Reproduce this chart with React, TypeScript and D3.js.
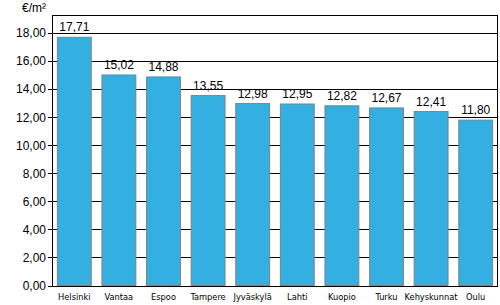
import React from "react";
import * as d3 from "d3";

const categories = ["Helsinki", "Vantaa", "Espoo", "Tampere", "Jyväskylä", "Lahti", "Kuopio", "Turku", "Kehyskunnat", "Oulu"];
const values = [17.71, 15.02, 14.88, 13.55, 12.98, 12.95, 12.82, 12.67, 12.41, 11.80];
const yTicks = [0, 2, 4, 6, 8, 10, 12, 14, 16, 18];
const unitLabel = "€/m²";

const fmt = (v: number) => v.toFixed(2).replace(".", ",");

export default function App() {
  const W = 500, H = 305;
  const left = 52, right = 498, top = 15, bottom = 285.5;
  const x = d3.scaleBand<string>().domain(categories).range([left, right]).paddingInner(0.24).paddingOuter(0.12);
  const y = d3.scaleLinear().domain([0, 19.3]).range([bottom, top]);
  return (
    <svg width={W} height={H} style={{ position: "absolute", left: 0, top: 0 }} fontFamily="Liberation Sans, Arial, sans-serif">
      <rect x={0} y={0} width={W} height={H} fill="#fff" />
      {yTicks.map((t) => (
        <g key={t}>
          <line x1={left - 4} x2={right} y1={Math.round(y(t)) + 0.5} y2={Math.round(y(t)) + 0.5} stroke="#000" strokeWidth={1} />
          <text x={46} y={y(t)} dy="0.35em" textAnchor="end" fontSize={12} fill="#000">{fmt(t)}</text>
        </g>
      ))}
      <rect x={left + 0.5} y={top + 0.5} width={right - left - 1} height={Math.round(bottom) - top} fill="none" stroke="#000" strokeWidth={1} />
      {categories.map((c, i) => (
        <g key={c}>
          <rect x={x(c)!} y={y(values[i])} width={x.bandwidth()} height={bottom - y(values[i])} fill="#33b0e1" stroke="#808080" strokeWidth={1} />
          <text x={x(c)! + x.bandwidth() / 2} y={y(values[i]) - 6} textAnchor="middle" fontSize={12} fill="#000">{fmt(values[i])}</text>
          <text x={x(c)! + x.bandwidth() / 2} y={300} textAnchor="middle" fontSize={9.2} fontFamily="DejaVu Sans Condensed, DejaVu Sans, sans-serif" fontStretch="condensed" fill="#000">{c}</text>
        </g>
      ))}
      <line x1={left} x2={right} y1={Math.round(bottom) + 0.5} y2={Math.round(bottom) + 0.5} stroke="#000" />
      <text x={22} y={12} fontSize={12} fill="#000">{unitLabel}</text>
    </svg>
  );
}
